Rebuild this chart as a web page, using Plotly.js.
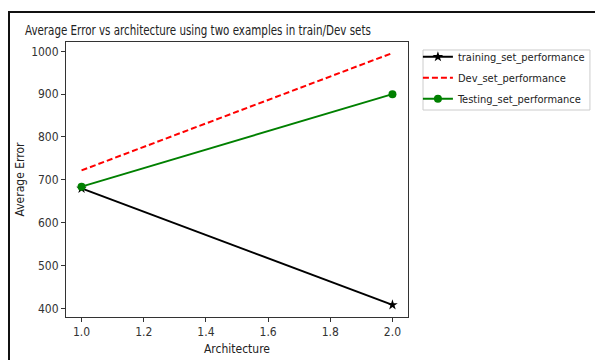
<!DOCTYPE html>
<html>
<head>
<meta charset="utf-8">
<script src="https://cdn.plot.ly/plotly-3.0.1.min.js"></script>
<style>
  html, body { margin: 0; padding: 0; background: #fff; }
  #wrap { position: relative; width: 595px; height: 360px; overflow: hidden; }
  #chart { position: absolute; left: 0; top: 0; width: 595px; height: 360px; }
  #frame {
    position: absolute; left: 8px; top: 11px; width: 600px; height: 360px;
    border-left: 2px solid #111; border-top: 2px solid #111;
    pointer-events: none; box-sizing: border-box;
  }
</style>
</head>
<body>
<div id="wrap">
  <div id="chart"></div>
  <div id="frame"></div>
</div>
<script>
// Two architectures, average error per data split
const architecture = [1.0, 2.0];
const trainingError = [680, 408];
const devError = [722, 996];
const testingError = [684, 900];

const xTicks = [1.0, 1.2, 1.4, 1.6, 1.8, 2.0];
const yTicks = [400, 500, 600, 700, 800, 900, 1000];

const FONT = '"Liberation Sans Narrow", "DejaVu Sans Condensed", "Roboto Condensed", Roboto, sans-serif';
const TITLE_X = 25;

const traces = [
  {
    x: architecture, y: trainingError, name: 'training_set_performance',
    legendgroup: 'train',
    mode: 'lines+markers', type: 'scatter',
    line: { color: '#000000', width: 2 },
    marker: { symbol: 'star', size: 8, color: '#000000' }
  },
  {
    x: architecture, y: devError, name: 'Dev_set_performance',
    legendgroup: 'dev',
    mode: 'lines', type: 'scatter',
    line: { color: '#ff0000', width: 2, dash: '6px,3px' }
  },
  {
    x: architecture, y: testingError, name: 'Testing_set_performance',
    legendgroup: 'test',
    mode: 'lines+markers', type: 'scatter',
    line: { color: '#008000', width: 2 },
    marker: { symbol: 'circle', size: 8, color: '#008000' }
  }
];

const axisCommon = {
  showgrid: false, zeroline: false, automargin: false,
  showline: true, mirror: true, linecolor: '#333', linewidth: 1,
  ticks: 'outside', ticklen: 4, tickcolor: '#333', tickwidth: 1,
  tickfont: { family: FONT, size: 12, color: '#333' }
};

const layout = {
  width: 595, height: 360,
  margin: { l: 66, r: 187, t: 42, b: 43, autoexpand: false },
  paper_bgcolor: '#ffffff', plot_bgcolor: '#ffffff',
  font: { family: FONT, color: '#222' },
  title: {
    text: 'Average Error vs architecture using two examples in train/Dev sets',
    font: { family: FONT, size: 14, color: '#222' },
    x: TITLE_X / 595, xanchor: 'left', xref: 'container',
    y: 1 - 30 / 360, yanchor: 'middle', yref: 'container'
  },
  xaxis: Object.assign({}, axisCommon, {
    range: [0.95, 2.05], tickvals: xTicks, tickformat: '.1f',
    title: { text: 'Architecture', font: { family: FONT, size: 12, color: '#222' }, standoff: 6 }
  }),
  yaxis: Object.assign({}, axisCommon, {
    range: [379.7, 1021.7], tickvals: yTicks,
    title: { text: 'Average Error', font: { family: FONT, size: 12, color: '#222' }, standoff: 3 }
  }),
  showlegend: true,
  legend: {
    x: 1.029, xanchor: 'left', y: 0.999, yanchor: 'top',
    borderwidth: 0, bgcolor: 'rgba(255,255,255,0)',
    font: { family: FONT, size: 11, color: '#222' },
    traceorder: 'grouped', tracegroupgap: 2,
    itemwidth: 30
  },
  // legend frame
  shapes: [{
    type: 'rect', xref: 'paper', yref: 'paper', layer: 'below',
    x0: 1.0439, x1: 1.532, y0: 0.7527, y1: 0.971,
    line: { color: '#cccccc', width: 1 }, fillcolor: '#ffffff'
  }]
};

Plotly.newPlot('chart', traces, layout, { staticPlot: true, displayModeBar: false })
  .then(function () {
    // narrow the title horizontally, anchored at its left edge
    const t = document.querySelector('#chart .gtitle');
    if (t) {
      const prev = t.getAttribute('transform') || '';
      t.setAttribute('transform',
        prev + ' translate(' + TITLE_X + ' 0) scale(0.82 1) translate(' + (-TITLE_X) + ' 0)');
    }
  });
</script>
</body>
</html>
